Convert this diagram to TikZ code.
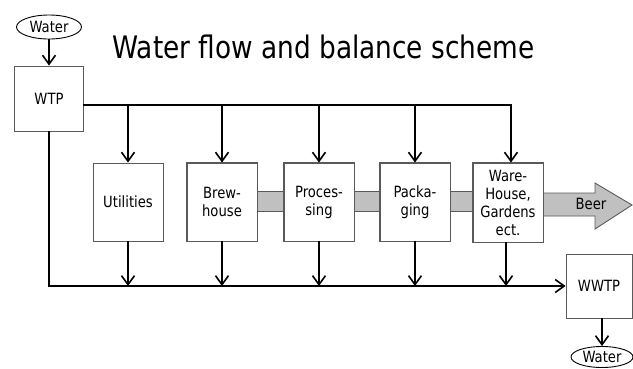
\documentclass[tikz,border=0pt]{standalone}
\usepackage{fontspec}
\setmainfont{DejaVu Sans}[FakeStretch=0.85]
\usetikzlibrary{shapes.geometric,arrows.meta}
\definecolor{bandgray}{RGB}{192,192,192}
\definecolor{edgegray}{RGB}{90,90,90}
\begin{document}
\begin{tikzpicture}[x=1pt,y=-1pt,
  every node/.style={font=\fontsize{15.5}{18}\selectfont},
  box/.style={draw=edgegray,line width=0.9pt,fill=white,minimum width=70pt,minimum height=78pt,inner sep=0pt,align=center},
  oval/.style={ellipse,draw=black,line width=0.9pt,fill=white,inner sep=0pt},
  flow/.style={line width=1.8pt,line cap=rect},
  arr/.style={line width=1.6pt,-{Straight Barb[length=9pt,width=13pt,line width=1.6pt]}},
  band/.style={draw=edgegray,line width=0.9pt,fill=bandgray}]
\useasboundingbox (0,0) rectangle (633,368);
% title
\node[anchor=base,font=\fontsize{31}{34}\selectfont] (title) at (323.5,58) {Water flow and balance scheme};
% boxes
\node[box,minimum width=69pt,minimum height=65pt] (wtp) at (49,98.5) {WTP};
\node[box] (utl) at (128,202) {Utilities};
\node[box] (brw) at (222,202) {Brew-\\house};
\node[box] (prc) at (319,202) {Proces-\\sing};
\node[box] (pck) at (415,202) {Packa-\\ging};
\node[box,minimum height=79pt] (wh) at (508,202.5) {Ware-\\House,\\Gardens\\ect.};
\node[box,minimum width=66pt,minimum height=64pt] (wwtp) at (599,286) {WWTP};
\node[oval,minimum width=65pt,minimum height=24pt] (w1) at (49,27) {Water};
\node[oval,minimum width=62pt,minimum height=21pt] (w2) at (602,357) {Water};
% product band
\draw[band] (brw.east |- 0,191) rectangle (prc.west |- 0,211);
\draw[band] (prc.east |- 0,191) rectangle (pck.west |- 0,211);
\draw[band] (pck.east |- 0,191) rectangle (wh.west |- 0,211);
\coordinate (bs) at (wh.east |- 0,193);
\draw[band] (bs) -- (595,193) -- (595,183) -- (632,205) -- (595,229) -- (595,216) -- (wh.east |- 0,216);
\node (beer) at (591,204) {Beer};
% redraw box edges over bands
\foreach \n in {brw,prc,pck,wh} {\draw[draw=edgegray,line width=0.9pt] (\n.north west) rectangle (\n.south east);}
% water in
\draw[arr] (w1.south) -- (w1.south |- wtp.north);
% supply line
\coordinate (tr) at (511,105);
\draw[flow] (wtp.east |- tr) -- (tr);
\draw[arr] (utl.north |- tr) -- (utl.north);
\draw[arr] (brw.north |- tr) -- (brw.north);
\draw[arr] (prc.north |- tr) -- (prc.north);
\draw[arr] (pck.north |- tr) -- (pck.north);
\draw[arr,line cap=rect] (tr) -- (tr |- wh.north);
% waste line
\coordinate (bl) at (49,286);
\draw[arr] (wtp.south) |- (wwtp.west);
\draw[arr] (utl.south) -- (utl.south |- bl);
\draw[arr] (brw.south) -- (brw.south |- bl);
\draw[arr] (prc.south) -- (prc.south |- bl);
\draw[arr] (pck.south) -- (pck.south |- bl);
\coordinate (whb) at (506,242);
\draw[arr] (whb) -- (whb |- bl);
% water out
\draw[arr] (w2.north |- wwtp.south) -- (w2.north);
\end{tikzpicture}
\end{document}
